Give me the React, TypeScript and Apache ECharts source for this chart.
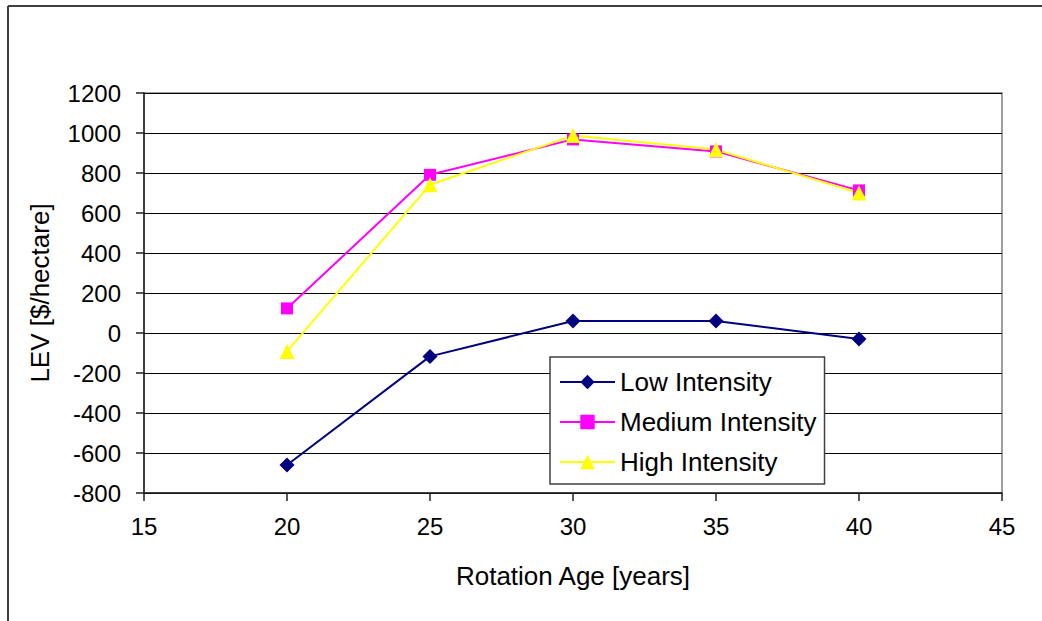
import React, { useEffect, useRef } from "react";
import * as echarts from "echarts";

const rotationAges = [20, 25, 30, 35, 40];
const lowIntensity = [-660, -117, 60, 60, -30];
const mediumIntensity = [123, 791, 968, 908, 713];
const highIntensity = [-92, 741, 987, 917, 700];
const seriesNames = ["Low Intensity", "Medium Intensity", "High Intensity"];

const FONT = "'Liberation Sans', Arial, sans-serif";

export default function App() {
  const ref = useRef<HTMLDivElement>(null);
  useEffect(() => {
    if (!ref.current) return;
    const chart = echarts.init(ref.current, null, { renderer: "svg" });
    const pair = (vals: number[]) => rotationAges.map((x, i) => [x, vals[i]]);
    chart.setOption({
      animation: false,
      backgroundColor: "#ffffff",
      textStyle: { fontFamily: FONT },
      grid: {
        left: 144,
        top: 93,
        right: 40,
        bottom: 128,
        show: true,
        borderColor: "#808080",
        borderWidth: 1.5,
        backgroundColor: "transparent",
      },
      graphic: [
        { type: "line", shape: { x1: 8, y1: 6, x2: 1042, y2: 6 }, style: { stroke: "#404040", lineWidth: 2 } },
        { type: "line", shape: { x1: 8, y1: 6, x2: 8, y2: 621 }, style: { stroke: "#404040", lineWidth: 2 } },
      ],
      legend: {
        orient: "vertical",
        left: 550,
        top: 357,
        padding: [5, 8, 2, 9],
        itemGap: 0,
        itemWidth: 55,
        itemHeight: 18,
        borderColor: "#404040",
        borderWidth: 1.5,
        backgroundColor: "#ffffff",
        textStyle: { fontFamily: FONT, fontSize: 26, color: "#000", lineHeight: 40 },
        data: seriesNames,
      },
      xAxis: {
        type: "value",
        min: 15,
        max: 45,
        interval: 5,
        name: "Rotation Age [years]",
        nameLocation: "middle",
        nameGap: 70,
        nameTextStyle: { fontFamily: FONT, fontSize: 26, color: "#000" },
        axisLine: { show: true, onZero: false, lineStyle: { color: "#202020", width: 1.5 } },
        axisTick: { show: true, inside: false, length: 8, lineStyle: { color: "#202020", width: 1.5 } },
        axisLabel: { fontFamily: FONT, fontSize: 24, color: "#000", margin: 21 },
        splitLine: { show: false },
      },
      yAxis: {
        type: "value",
        min: -800,
        max: 1200,
        interval: 200,
        name: "LEV [$/hectare]",
        nameLocation: "middle",
        nameGap: 91,
        nameTextStyle: { fontFamily: FONT, fontSize: 26, color: "#000" },
        axisLine: { show: true, lineStyle: { color: "#202020", width: 1.5 } },
        axisTick: { show: true, inside: false, length: 8, lineStyle: { color: "#202020", width: 1.5 } },
        axisLabel: { fontFamily: FONT, fontSize: 24, color: "#000", margin: 23, formatter: (v: number) => String(v) },
        splitLine: { show: true, lineStyle: { color: "#000000", width: 1 } },
      },
      series: [
        {
          name: seriesNames[0],
          type: "line",
          data: pair(lowIntensity),
          symbol: "diamond",
          symbolSize: 15,
          lineStyle: { color: "#000080", width: 2 },
          itemStyle: { color: "#000080" },
        },
        {
          name: seriesNames[1],
          type: "line",
          data: pair(mediumIntensity),
          symbol: "rect",
          symbolSize: 12,
          lineStyle: { color: "#FF00FF", width: 2 },
          itemStyle: { color: "#FF00FF" },
        },
        {
          name: seriesNames[2],
          type: "line",
          data: pair(highIntensity),
          symbol: "triangle",
          symbolSize: 15,
          lineStyle: { color: "#FFFF00", width: 2 },
          itemStyle: { color: "#FFFF00" },
        },
      ],
    });
    return () => chart.dispose();
  }, []);
  return (
    <div
      ref={ref}
      style={{ position: "fixed", left: 0, top: 0, width: 1042, height: 621, background: "#fff" }}
    />
  );
}
